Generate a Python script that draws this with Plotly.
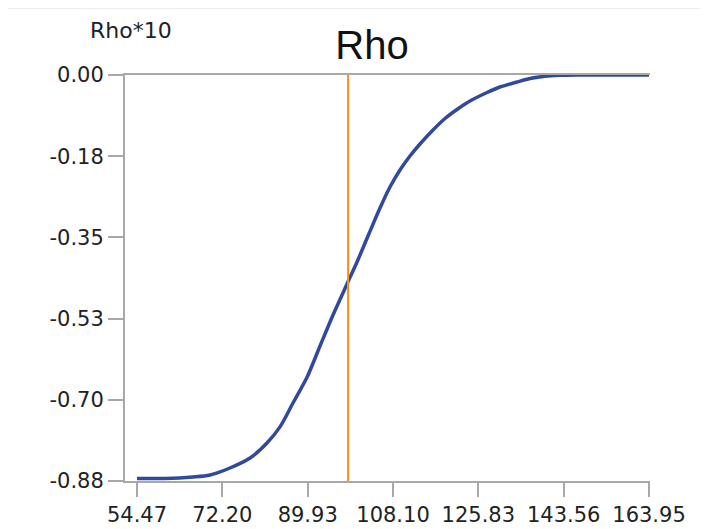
import numpy as np
import plotly.graph_objects as go

# Underlying price (x) and Rho*10 (y)
price = [54.47, 60.45, 66.44, 70.08, 74.35, 78.63, 82.26, 85.04, 87.82, 90.82,
         93.60, 96.38, 99.37, 101.51, 103.86, 106.43, 108.56, 110.70, 112.84,
         114.98, 117.76, 120.33, 122.89, 125.67, 129.31, 132.09, 135.72,
         138.50, 141.28, 144.92, 149.20, 163.95]
rho = [-0.8746, -0.8746, -0.8713, -0.8670, -0.8518, -0.8302, -0.7976, -0.7627,
       -0.7109, -0.6551, -0.5874, -0.5202, -0.4530, -0.4053, -0.3490, -0.2883,
       -0.2428, -0.2059, -0.1756, -0.1496, -0.1192, -0.0943, -0.0748, -0.0564,
       -0.0379, -0.0260, -0.0152, -0.0076, -0.0033, -0.0007, 0.0, 0.0]
marker_price = 99.6

x_ticktext = ["54.47", "72.20", "89.93", "108.10", "125.83", "143.56", "163.95"]
y_ticktext = ["0.00", "-0.18", "-0.35", "-0.53", "-0.70", "-0.88"]

x_min, x_max = 54.47, 163.95
y_min, y_max = -0.88, 0.0

x_tickvals = list(np.linspace(x_min, x_max, len(x_ticktext)))
y_tickvals = list(np.linspace(y_max, y_min, len(y_ticktext)))

axis_col = "#a8a8a8"
font_fam = "DejaVu Sans"
PW, PH = 525, 406  # plot area size in px
OFF = 8            # page body margin

fig = go.Figure()
fig.add_trace(go.Scatter(
    x=price, y=rho, mode="lines",
    line=dict(color="#2f4a9c", width=3.5, shape="spline", smoothing=0.8),
    cliponaxis=False, hoverinfo="skip", showlegend=False))
fig.add_trace(go.Scatter(
    x=[marker_price, marker_price], y=[y_min, y_max], mode="lines",
    line=dict(color="#ff8c1a", width=2), hoverinfo="skip", showlegend=False))

fig.update_layout(
    width=708 - OFF, height=529 - OFF,
    margin=dict(l=125 - OFF, r=58, t=75 - OFF, b=48, autoexpand=False),
    paper_bgcolor="white", plot_bgcolor="white",
    font=dict(family=font_fam, color="#222222"),
    title=dict(text="Rho", x=(372 - OFF) / (708 - OFF), xref="container",
               xanchor="center", y=1 - (45 - OFF) / (529 - OFF),
               yref="container", yanchor="middle",
               font=dict(family="Liberation Sans", size=40, color="#111111")),
    xaxis=dict(range=[51.90, 164.16], showgrid=False, zeroline=False,
               automargin=False,
               showline=True, linecolor=axis_col, linewidth=2, mirror=True,
               ticks="outside", ticklen=14, tickwidth=2, tickcolor=axis_col,
               tickvals=x_tickvals, ticktext=x_ticktext,
               tickfont=dict(size=21, color="#222222")),
    yaxis=dict(range=[y_min, y_max], showgrid=False, zeroline=False,
               automargin=False,
               showline=True, linecolor=axis_col, linewidth=2,
               ticks="outside", ticklen=15, tickwidth=2, tickcolor=axis_col,
               tickvals=y_tickvals, ticktext=y_ticktext,
               tickfont=dict(size=21, color="#222222")),
    annotations=[dict(text="Rho*10", xref="paper", yref="paper",
                      x=(131 - 125) / PW, y=1 + (75 - 31) / PH,
                      xanchor="center", yanchor="middle", showarrow=False,
                      font=dict(family=font_fam, size=22, color="#222222"))],
    shapes=[dict(type="line", xref="paper", yref="paper",
                 x0=(8 - 125) / PW, x1=(708 - 125) / PW,
                 y0=1 + (75 - 8) / PH, y1=1 + (75 - 8) / PH,
                 line=dict(color="#ececec", width=2))],
)

fig.write_html("out.html")
